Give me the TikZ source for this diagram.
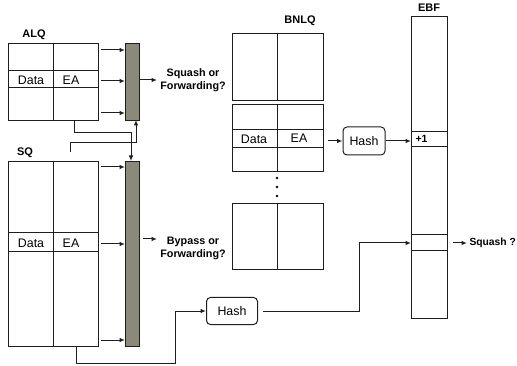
\documentclass[tikz,border=0pt]{standalone}
\usepackage{fontspec}
\setmainfont{Liberation Sans}
\usetikzlibrary{arrows.meta}
\definecolor{barc}{RGB}{139,137,122}
\definecolor{linec}{RGB}{30,30,30}
\begin{document}
\begin{tikzpicture}[x=1pt,y=-1pt,line width=1pt,draw=linec,
  >={Latex[length=5.5pt,width=4.5pt]},
  box/.style={draw,inner sep=0pt,anchor=north west},
  bar/.style={draw,fill=barc,inner sep=0pt,anchor=north west,minimum width=14pt},
  lbl/.style={font=\bfseries\fontsize{11}{12}\selectfont},
  qlbl/.style={font=\bfseries\fontsize{10.8}{13}\selectfont,align=center},
  txt/.style={font=\fontsize{12.4}{13}\selectfont},
  hashbox/.style={draw,rounded corners=4pt,inner sep=0pt,font=\fontsize{12.4}{13}\selectfont}]
\useasboundingbox (0,0) rectangle (517,366);

% ALQ
\node[lbl] (alqlbl) at (34,35) {ALQ};
\node[box,minimum width=90pt,minimum height=77pt] (alq) at (8,43) {};
\draw (53,43) -- (53,120);
\draw (8,71) -- (98,71) (8,88) -- (98,88);
\node[txt] (alqd) at (31,80) {Data};
\node[txt] (alqe) at (71,80) {EA};
\node[bar,minimum height=77pt] (alqbar) at (125,43) {};
\foreach \yy in {50,81,113}
  \draw[->] ([xshift=2pt]alq.east |- 0,\yy) -- (alqbar.west |- 0,\yy);
\coordinate (alqout) at (157,80);
\draw[->] (alqbar.east |- alqout) -- (alqout);
\node[qlbl] (sqf) at (193,80) {Squash or\\Forwarding?};

% SQ
\node[lbl] (sqlbl) at (25,153) {SQ};
\node[box,minimum width=90pt,minimum height=185pt] (sq) at (8,161) {};
\draw (53,161) -- (53,346);
\draw (8,233) -- (98,233) (8,252) -- (98,252);
\node[txt] (sqd) at (31,243) {Data};
\node[txt] (sqe) at (71,243) {EA};
\node[bar,minimum height=185pt] (sqbar) at (125,161) {};
\foreach \yy in {167,244,340}
  \draw[->] ([xshift=2pt]sq.east |- 0,\yy) -- (sqbar.west |- 0,\yy);
\coordinate (sqout) at (157,239);
\draw[->] ([xshift=3pt]sqbar.east |- sqout) -- (sqout);
\node[qlbl] (bf) at (193,248) {Bypass or\\Forwarding?};

% cross connections
\draw[->] (alq.south -| 74,0) -- (74,133) -- (131,133) -- (sqbar.north -| 131,0);
\draw[->] (70,152) -- (70,143) -- (136,143) -- ([yshift=1pt]alqbar.south -| 136,0);

% Hash (SQ)
\node[hashbox,minimum width=51pt,minimum height=27pt] (hasha) at (232,311) {Hash};
\draw[->] (sq.south -| 76,0) -- (76,363) -- (175,363) -- (175,311) -- (hasha.west);

% BNLQ
\node[lbl] (bnlqlbl) at (300,21) {BNLQ};
\node[box,minimum width=91pt,minimum height=67pt] (bn1) at (232,33) {};
\draw (277,33) -- (277,100);
\node[box,minimum width=91pt,minimum height=67pt] (bn2) at (232,104) {};
\draw (277,104) -- (277,171);
\draw (232,130) -- (323,130) (232,148) -- (323,148);
\node[txt] (bnd) at (254,139) {Data};
\node[txt] (bne) at (299,138) {EA};
\foreach \yy in {178,187,196} \fill (277,\yy) circle (1.4pt);
\node[box,minimum width=91pt,minimum height=66pt] (bn3) at (232,203) {};
\draw (277,203) -- (277,269);

\node[hashbox,minimum width=42pt,minimum height=28pt] (hashb) at (364,141) {Hash};
\draw[->] ([xshift=4pt]bn2.east |- hashb) -- (hashb.west);

% EBF
\node[lbl] (ebflbl) at (429,8) {EBF};
\node[box,minimum width=36pt,minimum height=302pt] (ebf) at (411,16) {};
\draw (411,132) -- (447,132) (411,147) -- (447,147);
\draw (411,235) -- (447,235) (411,251) -- (447,251);
\node[anchor=west,inner sep=0pt,font=\bfseries\fontsize{10.5}{11}\selectfont] (plus) at (415,139) {+1};
\draw[->] (hashb.east) -- (ebf.west |- hashb);
\draw[->] ([xshift=5pt]hasha.east) -- (359,311) -- (359,243) -- (ebf.west |- 0,243);
\coordinate (sqa) at (467,243);
\draw[->] ([xshift=5pt]ebf.east |- sqa) -- (sqa);
\node[anchor=west,inner sep=0pt,font=\bfseries\fontsize{10.3}{12}\selectfont] (squ) at (469,243) {Squash ?};
\end{tikzpicture}
\end{document}
